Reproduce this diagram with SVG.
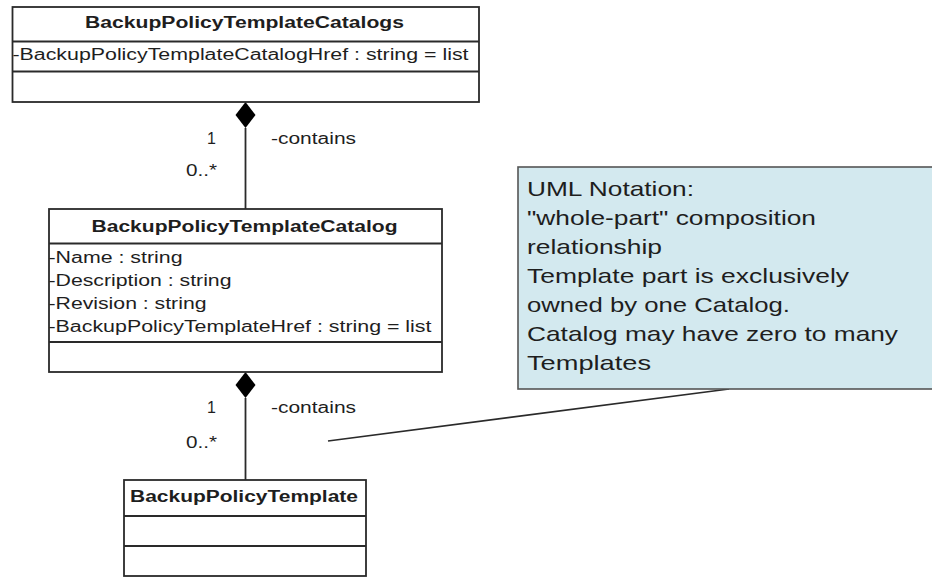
<svg xmlns="http://www.w3.org/2000/svg" width="932" height="578" viewBox="0 0 932 578">
<style>
.box{fill:#fff;stroke:#2a2a2a;stroke-width:1.8}
.div{stroke:#2a2a2a;stroke-width:1.8}
text{font-family:"Liberation Sans",Arial,sans-serif;fill:#1e1e1e}
.t{font-size:16px;font-weight:bold}
.a{font-size:16px}
.l{font-size:16px}
.n{font-size:21px}
.conn{stroke:#2a2a2a;stroke-width:1.8;fill:none}
.dia{fill:#000;stroke:none}
.note{fill:#d3e9ef;stroke:#555;stroke-width:1.6}
</style>
<rect width="932" height="578" fill="#fff"/>
<g id="connectors">
<line class="conn" x1="245.5" y1="128" x2="245.5" y2="209"/>
<path class="dia" d="M245.5,102 L255.5,115 L245.5,128 L235.5,115 Z"/>
<line class="conn" x1="245.5" y1="398" x2="245.5" y2="480"/>
<path class="dia" d="M245.5,372 L255.5,385 L245.5,398 L235.5,385 Z"/>
<line x1="328" y1="441" x2="729" y2="389" stroke="#2a2a2a" stroke-width="1.6"/>
<text class="l" x="207" y="144">1</text>
<text class="l" x="271" y="144" textLength="85" lengthAdjust="spacingAndGlyphs">-contains</text>
<text class="l" x="186" y="176" textLength="31" lengthAdjust="spacingAndGlyphs">0..*</text>
<text class="l" x="207" y="413">1</text>
<text class="l" x="271" y="413" textLength="85" lengthAdjust="spacingAndGlyphs">-contains</text>
<text class="l" x="186" y="448" textLength="31" lengthAdjust="spacingAndGlyphs">0..*</text>
</g>
<g id="catalogs">
<rect class="box" x="12.5" y="7" width="466.5" height="95"/>
<line class="div" x1="12.5" y1="41.5" x2="479" y2="41.5"/>
<line class="div" x1="12.5" y1="71.5" x2="479" y2="71.5"/>
<text class="t" x="85" y="27.5" textLength="319" lengthAdjust="spacingAndGlyphs">BackupPolicyTemplateCatalogs</text>
<text class="a" x="12.5" y="59.5" textLength="456" lengthAdjust="spacingAndGlyphs">-BackupPolicyTemplateCatalogHref : string = list</text>
</g>
<g id="catalog">
<rect class="box" x="49" y="209" width="393" height="163"/>
<line class="div" x1="49" y1="243.5" x2="442" y2="243.5"/>
<line class="div" x1="49" y1="342" x2="442" y2="342"/>
<text class="t" x="91.5" y="232" textLength="306" lengthAdjust="spacingAndGlyphs">BackupPolicyTemplateCatalog</text>
<text class="a" x="48.5" y="263" textLength="134" lengthAdjust="spacingAndGlyphs">-Name : string</text>
<text class="a" x="48.5" y="286" textLength="183" lengthAdjust="spacingAndGlyphs">-Description : string</text>
<text class="a" x="48.5" y="309" textLength="158" lengthAdjust="spacingAndGlyphs">-Revision : string</text>
<text class="a" x="48.5" y="332" textLength="383" lengthAdjust="spacingAndGlyphs">-BackupPolicyTemplateHref : string = list</text>
</g>
<g id="template">
<rect class="box" x="124" y="480" width="242" height="96"/>
<line class="div" x1="124" y1="516" x2="366" y2="516"/>
<line class="div" x1="124" y1="546" x2="366" y2="546"/>
<text class="t" x="130" y="502" textLength="228" lengthAdjust="spacingAndGlyphs">BackupPolicyTemplate</text>
</g>
<g id="note">
<rect class="note" x="518" y="167" width="430" height="222"/>
<text class="n" x="527" y="196" textLength="167" lengthAdjust="spacingAndGlyphs">UML Notation:</text>
<text class="n" x="527" y="225" textLength="289" lengthAdjust="spacingAndGlyphs">"whole-part" composition</text>
<text class="n" x="527" y="254" textLength="135" lengthAdjust="spacingAndGlyphs">relationship</text>
<text class="n" x="527" y="283" textLength="322" lengthAdjust="spacingAndGlyphs">Template part is exclusively</text>
<text class="n" x="527" y="312" textLength="263" lengthAdjust="spacingAndGlyphs">owned by one Catalog.</text>
<text class="n" x="527" y="341" textLength="371" lengthAdjust="spacingAndGlyphs">Catalog may have zero to many</text>
<text class="n" x="527" y="370" textLength="124" lengthAdjust="spacingAndGlyphs">Templates</text>
</g>
</svg>
